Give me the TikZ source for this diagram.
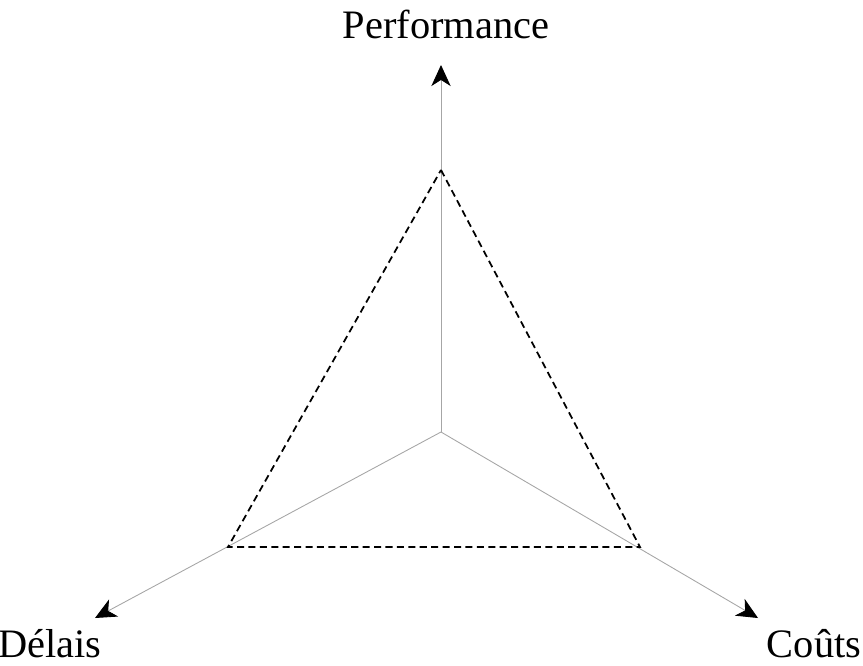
\documentclass[tikz,border=0pt]{standalone}
\usepackage{fontspec}
\setmainfont{Liberation Serif}
\usetikzlibrary{arrows.meta}
\begin{document}
\begin{tikzpicture}[x=0.02cm, y=-0.02cm, >={Stealth[black,length=12pt,width=11pt,inset=3.5pt]}]
    \useasboundingbox (0,0) rectangle (863,666);

    \coordinate (O) at (441,432);
    \coordinate (P) at (441,170);
    \coordinate (D) at (228,547);
    \coordinate (C) at (640,547);

    \coordinate (Ptip) at (441,65);
    \coordinate (Dtip) at (95,618);
    \coordinate (Ctip) at (758,618);

    \draw[->, gray!70, line width=0.5pt] (O) -- (Ptip);
    \draw[->, gray!70, line width=0.5pt] (O) -- (Dtip);
    \draw[->, gray!70, line width=0.5pt] (O) -- (Ctip);

    \draw[dashed, line width=1pt, dash pattern=on 4pt off 2.5pt] (P) -- (C) -- (D) -- cycle;

    \node[font=\fontsize{23}{28}\selectfont] (perf) at (446,24) {Performance};
    \node[font=\fontsize{23}{28}\selectfont] (delais) at (50,644) {Délais};
    \node[font=\fontsize{23}{28}\selectfont] (couts) at (814,644) {Coûts};
\end{tikzpicture}
\end{document}
